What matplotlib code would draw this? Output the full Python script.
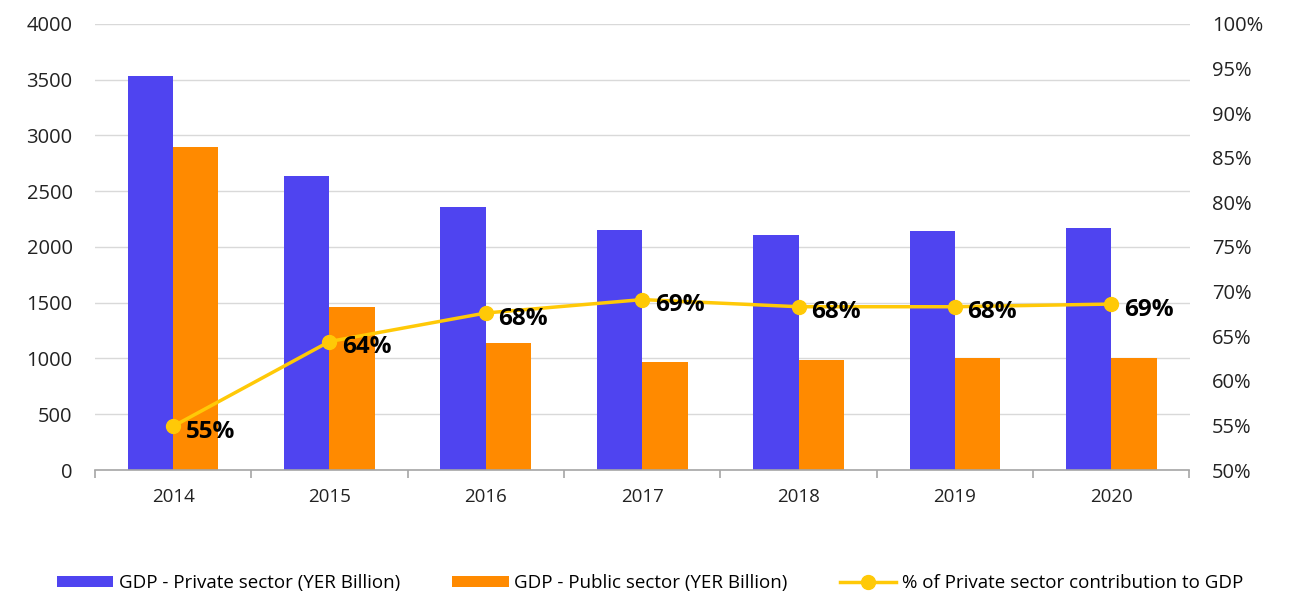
import matplotlib
matplotlib.use("Agg")
import matplotlib.pyplot as plt
import numpy as np

years = ["2014", "2015", "2016", "2017", "2018", "2019", "2020"]
private_gdp = [3534, 2637, 2359, 2152, 2108, 2143, 2170]
public_gdp = [2897, 1462, 1139, 969, 987, 1004, 1004]
private_share = [54.9, 64.4, 67.6, 69.1, 68.3, 68.3, 68.6]
share_labels = ["55%", "64%", "68%", "69%", "68%", "68%", "69%"]

plt.rcParams['font.family'] = ['Open Sans', 'DejaVu Sans']

blue = "#4F44F0"
orange = "#FF8A00"
yellow = "#FFC907"

fig = plt.figure(figsize=(13, 5.97), dpi=100)
ax = fig.add_axes([0.073, 0.2127, 0.842, 0.7473])
x = np.arange(len(years))
w = 0.29
ax.bar(x - w/2, private_gdp, w, color=blue, label="GDP - Private sector (YER Billion)", zorder=2)
ax.bar(x + w/2, public_gdp, w, color=orange, label="GDP - Public sector (YER Billion)", zorder=2)
ax.set_xlim(-0.5, len(years) - 0.5)
ax.set_ylim(0, 4000)
ax.set_yticks(np.arange(0, 4001, 500))
ax.yaxis.grid(True, color="#D9D9D9", linewidth=1, zorder=0)
ax.set_axisbelow(True)
for s in ["top", "right", "left"]:
    ax.spines[s].set_visible(False)
ax.spines["bottom"].set_color("#A6A6A6")
ax.spines["bottom"].set_linewidth(1.2)
ax.set_xticks(x)
ax.set_xticklabels(years)
ax.set_xticks(np.arange(-0.5, len(years)), minor=True)
ax.tick_params(axis="x", which="major", length=0, pad=13, labelsize=13.5, colors="#222222")
ax.tick_params(axis="x", which="minor", length=6, color="#A6A6A6", width=1.2)
ax.tick_params(axis="y", length=0, labelsize=14.5, pad=16, labelcolor="#222222")

ax2 = ax.twinx()
ax2.set_ylim(50, 100)
ax2.set_yticks(np.arange(50, 101, 5))
ax2.set_yticklabels([f"{v}%" for v in range(50, 101, 5)])
for s in ["top", "right", "left", "bottom"]:
    ax2.spines[s].set_visible(False)
ax2.tick_params(axis="y", length=0, labelsize=14.5, pad=16, labelcolor="#222222")
ax2.plot(x, private_share, color=yellow, linewidth=2.5, marker="o", markersize=10,
         label="% of Private sector contribution to GDP", zorder=3)
for xi, yi, lab in zip(x, private_share, share_labels):
    ax2.annotate(lab, (xi, yi), xytext=(9, -4), textcoords="offset points",
                 ha="left", va="center", fontsize=17.5, fontweight="bold", color="black")

h1, l1 = ax.get_legend_handles_labels()
h2, l2 = ax2.get_legend_handles_labels()
fig.legend(h1 + h2, l1 + l2, loc="lower center", bbox_to_anchor=(0.5, -0.02), ncol=3,
           frameon=False, fontsize=13.5, handlelength=3, handleheight=0.6, columnspacing=2.8,
           handletextpad=0.3)

fig.savefig("out.png", dpi=100)
